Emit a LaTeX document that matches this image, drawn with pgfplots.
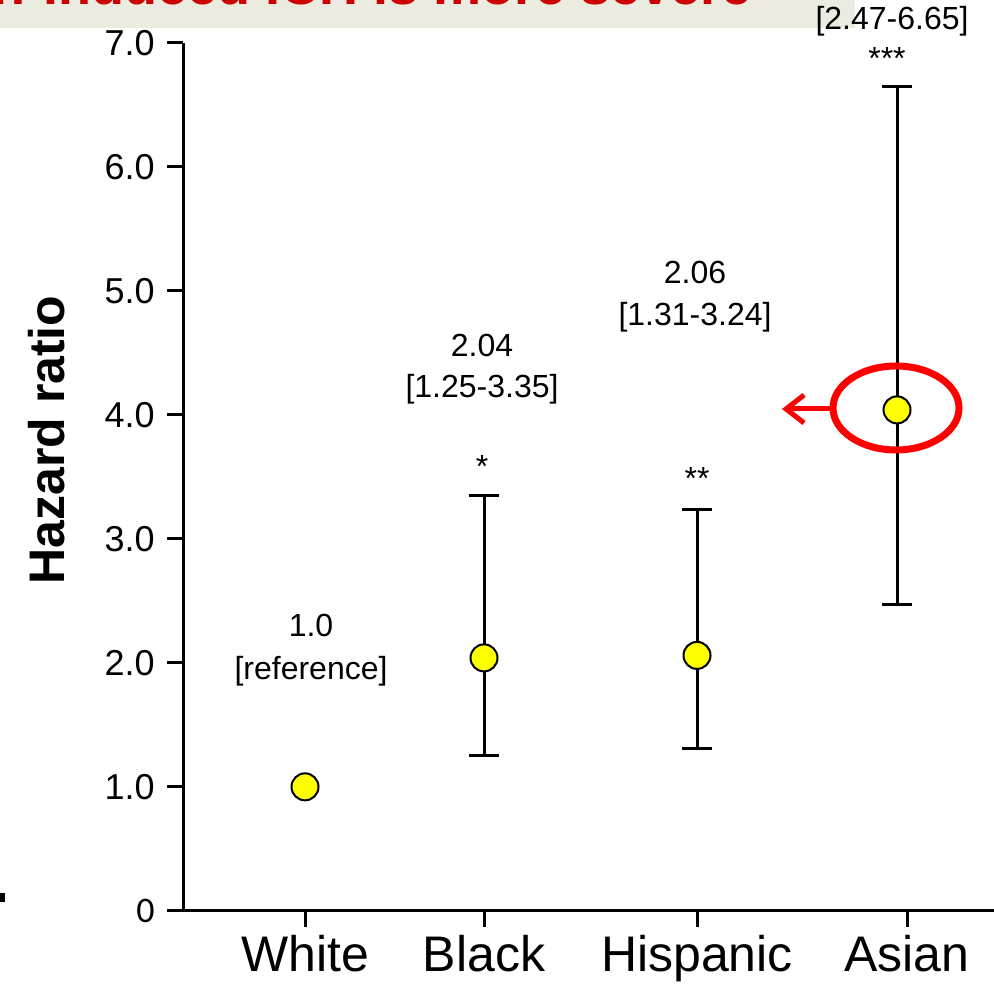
\documentclass[border=0pt]{standalone}
\usepackage{fontspec}
\setmainfont{Liberation Sans}
\newfontfamily\calibrilike{Carlito}
\usepackage{pgfplots}
\usepackage{pgfplotstable}
\pgfplotsset{compat=1.18}
\usetikzlibrary{arrows.meta}

\definecolor{bandbeige}{HTML}{ECEBE0}
\definecolor{titlered}{HTML}{CC0000}
\definecolor{markyellow}{HTML}{FFFF00}
\definecolor{ovalred}{HTML}{FF0000}

% hazard ratio with 95% CI: x position, estimate, upper minus estimate, estimate minus lower
\pgfplotstableread{
x y ep em
484 2.04 1.31 0.79
697 2.06 1.18 0.75
897 4.04 2.61 1.57
}\hrdata
\pgfplotstableread{
x y
305 1.00
}\refdata

\newcommand{\annfont}{\fontsize{16}{18}\selectfont}

\begin{document}
\begin{tikzpicture}[x=0.5pt,y=0.5pt]
\clip (0,0) rectangle (994,984);
\useasboundingbox (0,0) rectangle (994,984);

% slide title band
\fill[bandbeige] (0,956) rectangle (855,984);
\node[anchor=base east, text=titlered, inner sep=0pt,
      font=\bfseries\fontsize{27}{29}\selectfont] at (752,979) {Warfarin-induced ICH is more severe};
\fill (0,82) rectangle (5,91);

\begin{axis}[
  at={(183,59)}, anchor=south west,
  scale only axis, width=405.5pt, height=434pt,
  xmin=183, xmax=994, ymin=0, ymax=7,
  axis x line=bottom, axis y line=left,
  axis line style={-, line width=1.5pt},
  every tick/.style={black, line width=1.5pt},
  tick align=outside,
  major tick length=8pt,
  xtick={305,484,697,907},
  xticklabels={White,Black,Hispanic,Asian},
  ytick={0,1,2,3,4,5,6,7},
  yticklabels={{\calibrilike 0},1.0,2.0,3.0,4.0,5.0,6.0,7.0},
  xticklabel style={font=\fontsize{25}{27}\selectfont, inner sep=0pt, yshift=-4pt},
  yticklabel style={font=\fontsize{18}{20}\selectfont, inner sep=0pt, xshift=-6pt},
  clip=false,
]
\addplot+[only marks, mark=*, mark size=6.75pt,
  mark options={fill=markyellow, draw=black, line width=1pt},
  error bars/.cd, y dir=both, y explicit,
  error bar style={line width=1.5pt, black},
  error mark options={rotate=90, mark size=7.5pt, line width=1.5pt, black}]
  table[x=x, y=y, y error plus=ep, y error minus=em] {\hrdata};
\addplot+[only marks, mark=*, mark size=6.75pt,
  mark options={fill=markyellow, draw=black, line width=1pt}]
  table[x=x, y=y] {\refdata};
\end{axis}

% estimate and confidence-interval labels
\node[anchor=base, font=\annfont, inner sep=0pt] at (311,347) {1.0};
\node[anchor=base, font=\annfont, inner sep=0pt] at (311,304) {[reference]};
\node[anchor=base, font=\annfont, inner sep=0pt] at (482,627) {2.04};
\node[anchor=base, font=\annfont, inner sep=0pt] at (482,586) {[1.25-3.35]};
\node[anchor=base, font=\annfont, inner sep=0pt] at (482,506) {*};
\node[anchor=base, font=\annfont, inner sep=0pt] at (695,700) {2.06};
\node[anchor=base, font=\annfont, inner sep=0pt] at (695,658) {[1.31-3.24]};
\node[anchor=base, font=\annfont, inner sep=0pt] at (697,494) {**};
\node[anchor=base, font=\annfont, inner sep=0pt] at (892,995) {4.04};
\node[anchor=base, font=\annfont, inner sep=0pt] at (892,954) {[2.47-6.65]};
\node[anchor=base, font=\annfont, inner sep=0pt] at (887,914) {***};

% y-axis title
\node[rotate=90, font=\bfseries\fontsize{25}{27}\selectfont] at (47,544) {Hazard ratio};

% highlight on the Asian estimate
\draw[ovalred, line width=3.5pt] (896,576) ellipse [x radius=31.5pt, y radius=21pt];
\draw[ovalred, line width=2.5pt, -{Straight Barb[length=9pt, width=14pt, line width=2.5pt]}]
  (832,575) -- (782,575);
\end{tikzpicture}
\end{document}
